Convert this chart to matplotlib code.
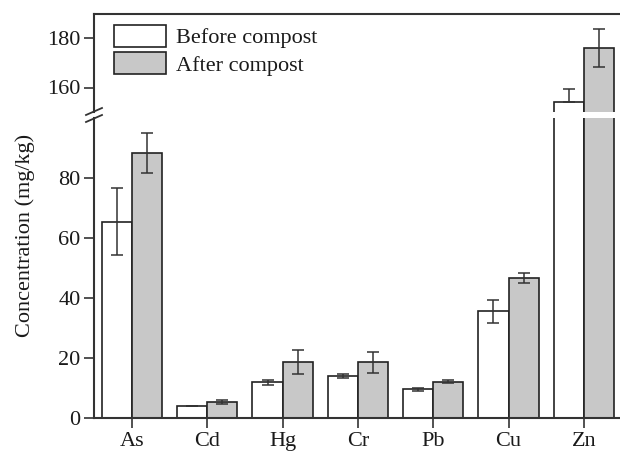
import matplotlib
matplotlib.use("Agg")
import matplotlib.pyplot as plt
from matplotlib.lines import Line2D
from matplotlib.patches import Patch
import numpy as np

plt.rcParams['font.family'] = ['Times New Roman', 'Liberation Serif', 'DejaVu Serif']

categories = ["As", "Cd", "Hg", "Cr", "Pb", "Cu", "Zn"]
before = [65.5, 4.1, 12.0, 14.1, 9.7, 35.6, 153.9]
before_err_lo = [11.1, 0.15, 0.9, 0.7, 0.55, 4.0, 0.0]
before_err_hi = [11.1, 0.15, 0.9, 0.7, 0.55, 3.9, 5.4]
after = [88.4, 5.45, 18.6, 18.6, 12.1, 46.7, 176.1]
after_err = [6.7, 0.55, 4.0, 3.4, 0.5, 1.6, 7.8]
lower_ticks = [0, 20, 40, 60, 80]
upper_ticks = [160, 180]

W, H = 620, 453
fig = plt.figure(figsize=(W / 100, H / 100), dpi=100)

left = 94.3 / W
right = 1.0
ax_lo = fig.add_axes([left, 1 - 418.3 / H, right - left, (418.3 - 118) / H])
ax_hi = fig.add_axes([left, 1 - 112 / H, right - left, (112 - 14) / H])

x = np.arange(len(categories))
bw = 0.4
spine_c = "#333333"
edge_c = "#222222"
gray = "#c8c8c8"
fs = 16

for ax in (ax_lo, ax_hi):
    ax.bar(x - bw / 2, before, bw, color="white", edgecolor=edge_c, linewidth=1.2, zorder=2)
    ax.bar(x + bw / 2, after, bw, color=gray, edgecolor=edge_c, linewidth=1.2, zorder=2)
    ax.errorbar(x - bw / 2, before, yerr=[before_err_lo, before_err_hi], fmt="none",
                ecolor=spine_c, elinewidth=1.1, capsize=4, capthick=1.1, zorder=3)
    ax.errorbar(x + bw / 2, after, yerr=after_err, fmt="none",
                ecolor=spine_c, elinewidth=1.1, capsize=4, capthick=1.1, zorder=3)
    ax.set_xlim(-0.5, 6.48)
    ax.spines['right'].set_visible(False)
    for s in ax.spines.values():
        s.set_color(spine_c)
        s.set_linewidth(1.5)
    ax.tick_params(direction="out", length=7, width=1.2, color=spine_c,
                   labelsize=fs, labelcolor="#1a1a1a", pad=3)

ax_lo.set_ylim(0, 100)
ax_lo.set_yticks(lower_ticks)
ax_lo.spines['top'].set_visible(False)
ax_lo.set_xticks(x)
ax_lo.set_xticklabels(categories)

ax_hi.set_ylim(150, 190)
ax_hi.set_yticks(upper_ticks)
ax_hi.spines['bottom'].set_visible(False)
ax_hi.set_xticks([])

# break marks on the y axis
for yb in (111.5, 118.5):
    fig.add_artist(Line2D([86 / W, 102 / W], [1 - (yb + 3.5) / H, 1 - (yb - 3.5) / H],
                          color=spine_c, linewidth=1.3))

fig.text(25 / W, 1 - 235.5 / H, "Concentration (mg/kg)", rotation=90,
         ha="center", va="center", fontsize=fs, color="#1a1a1a")

handles = [Patch(facecolor="white", edgecolor=edge_c, linewidth=1.2),
           Patch(facecolor=gray, edgecolor=edge_c, linewidth=1.2)]
fig.legend(handles, ["Before compost", "After compost"], loc="upper left",
           bbox_to_anchor=(114 / W, 1 - 25 / H), bbox_transform=fig.transFigure,
           frameon=False, fontsize=fs, borderpad=0, borderaxespad=0,
           handlelength=2.35, handleheight=1.13, handletextpad=0.45, labelspacing=0.18,
           labelcolor="#1a1a1a")

fig.savefig("out.png", dpi=100)
